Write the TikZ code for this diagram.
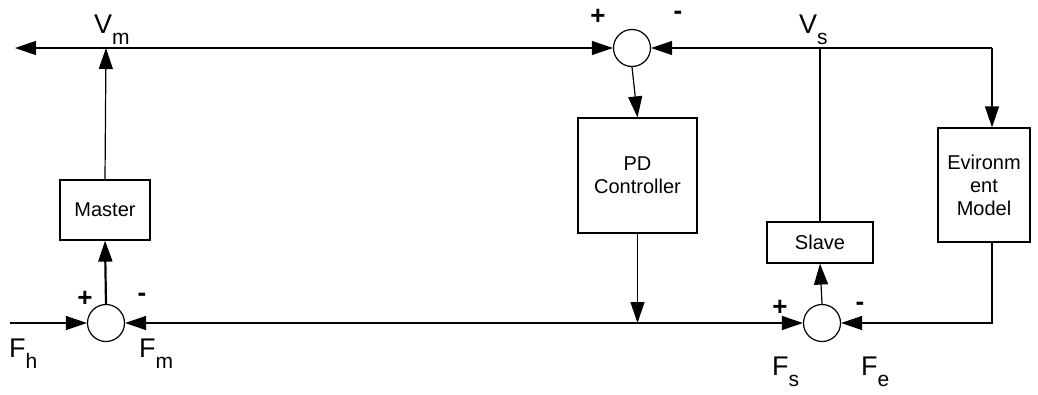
\documentclass[tikz,border=0pt]{standalone}
\usepackage{fontspec}
\setmainfont{Liberation Sans}
\usetikzlibrary{arrows.meta,positioning,calc}

\newcommand{\sig}[2]{#1\raisebox{-0.42em}{\fontsize{21}{21}\selectfont #2}}

\begin{document}
\begin{tikzpicture}[x=1pt,y=-1pt,font=\fontsize{20}{23}\selectfont,
  b/.style={rectangle,draw,line width=1.2pt,align=center,inner sep=2pt},
  sm/.style={circle,draw,line width=1.2pt,minimum size=37pt,inner sep=0pt},
  a/.style={-{Triangle[length=21pt,width=14pt]},line width=1.2pt},
  l/.style={inner sep=0pt,anchor=base west,font=\fontsize{27}{30}\selectfont},
  pm/.style={inner sep=0pt,font=\fontsize{26}{26}\selectfont\bfseries}]

  \useasboundingbox (0,0) rectangle (1038,394);

  % blocks
  \node[b,minimum width=90pt,minimum height=60pt] (ms) at (105,210) {Master};
  \node[b,minimum width=119pt,minimum height=115pt] (pd) at (637.5,175.5) {PD\\Controller};
  \node[b,minimum width=106pt,minimum height=41pt] (sl) at (820,242.5) {Slave};
  \node[b,minimum width=92pt,minimum height=114pt] (env) at (984,185) {Evironm\\ent\\Model};

  % summing junctions
  \node[sm] (s1) at (632,48) {};
  \node[sm] (s2) at (106,323) {};
  \node[sm] (s3) at (822,323) {};

  % branch points
  \coordinate (vm) at (106,48);
  \coordinate (vs) at (820,48);
  \coordinate (end) at (15,48);
  \coordinate (fh) at (10,323);
  \coordinate (jr) at (992,48);
  \coordinate (je) at (992,323);
  \coordinate (jp) at (pd.south |- s2);

  % signals
  \draw[a] (ms.north) -- (vm);
  \draw[a] (vm) -- (end);
  \draw[a] (vm) -- (s1.west);
  \draw[a] (vs) -- (s1.east);
  \draw[line width=1.2pt] (sl.north) -- (vs) -- (jr);
  \draw[a] (jr) -- (jr |- env.north);
  \draw[a] (s1.south) -- (pd.north);
  \draw[a] (pd.south) -- (jp);
  \draw[a] (jp) -- (s2.east);
  \draw[a] (jp) -- (s3.west);
  \draw[a] (jr |- env.south) -- (je) -- (s3.east);
  \draw[a] (fh) -- (s2.west);
  \draw[a,line width=2.2pt] (s2.north) -- (ms.south);
  \draw[a] (s3.north) -- (sl.south);

  % signs
  \node[pm] (p1) at (598,17) {+};
  \node[pm] (m1) at (678,15) {-};
  \node[pm] (p2) at (85,299) {+};
  \node[pm] (m2) at (142,297) {-};
  \node[pm] (p3) at (780,308) {+};
  \node[pm] (m3) at (860,306) {-};

  % labels
  \node[l] (lvm) at (94,33) {\sig{V}{m}};
  \node[l] (lvs) at (799,33) {\sig{V}{s}};
  \node[l] (lfh) at (9,357) {\sig{F}{h}};
  \node[l] (lfm) at (139,357) {\sig{F}{m}};
  \node[l] (lfs) at (772,375) {\sig{F}{s}};
  \node[l] (lfe) at (861,375) {\sig{F}{e}};
\end{tikzpicture}
\end{document}
